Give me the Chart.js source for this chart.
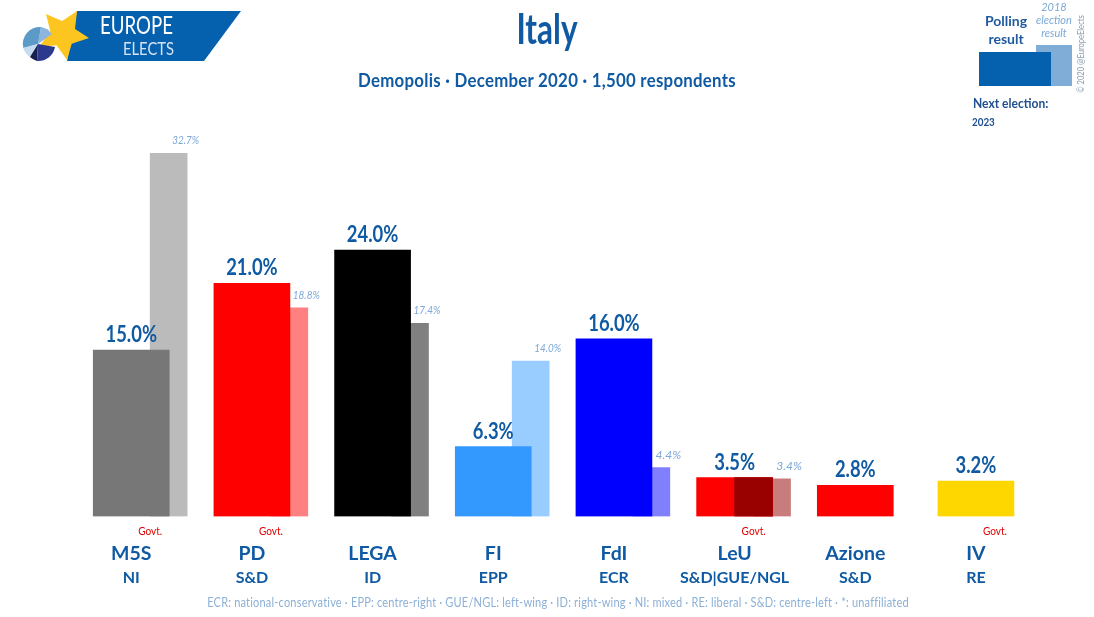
<!DOCTYPE html>
<html>
<head>
<meta charset="utf-8">
<title>Italy poll</title>
<script src="https://cdn.jsdelivr.net/npm/chart.js@4"></script>
<style>
  html, body { margin: 0; padding: 0; background: #fff; }
  #page { position: relative; width: 1094px; height: 617px; overflow: hidden; font-family: Lato, sans-serif; }
  #chart { position: absolute; left: 0; top: 0; }
  .t { position: absolute; white-space: nowrap; transform: translate(-50%, -50%); color: #0f5aa3; font-weight: 700; }
  .l { position: absolute; white-space: nowrap; transform-origin: left center; color: #1f4f8f; font-weight: 700; }
  .box { position: absolute; }
  svg { position: absolute; left: 0; top: 0; }
</style>
</head>
<body>
<div id="page">
  <canvas id="chart" width="1094" height="617"></canvas>

  <svg width="260" height="70" viewBox="0 0 260 70">
    <polygon points="77,11 241,11 204,61 67,61" fill="#0560ae"/>
    <polygon points="46,14 62.1,21 77,11 75,29.1 89,38 71.7,43.7 67,60 56.5,45.3 39,47 50.3,31.3" fill="#fdc51f"/>
    <path d="M38,44 L41,27 A17,17 0 0 1 52,34 Z" fill="#8db5dd"/>
    <path d="M38,44 L41,27 A17,17 0 0 0 23.3,48 Z" fill="#5c9ac8"/>
    <path d="M38,44 L23.3,48 A17,17 0 0 0 30,57 Z" fill="#c6daf0"/>
    <path d="M38,44 L30,57 A17,17 0 0 0 37,61 Z" fill="#16204f"/>
    <path d="M38,44 L37,61 A17,17 0 0 0 55,47 Z" fill="#2b3a8c"/>
    <text x="100" y="34" font-size="25" fill="#fff" textLength="73" lengthAdjust="spacingAndGlyphs">EUROPE</text>
    <text x="123" y="55" font-size="17" fill="#d5e4f5" textLength="51" lengthAdjust="spacingAndGlyphs">ELECTS</text>
  </svg>

  <div class="t" style="left:547px;top:28px;font-size:42px;transform:translate(-50%,-50%) scaleX(.75);">Italy</div>
  <div class="t" style="left:547px;top:79px;font-size:19px;letter-spacing:.3px;transform:translate(-50%,-50%) scaleX(.885);">Demopolis · December 2020 · 1,500 respondents</div>

  <div class="t" style="left:1006px;top:20px;font-size:14px;color:#1f5a9e;">Polling</div>
  <div class="t" style="left:1006px;top:38px;font-size:14px;color:#1f5a9e;">result</div>
  <div class="t" style="left:1054px;top:6px;font-size:11px;font-weight:400;font-style:italic;color:#7ca8d8;">2018</div>
  <div class="t" style="left:1054px;top:19px;font-size:11px;font-weight:400;font-style:italic;color:#7ca8d8;">election</div>
  <div class="t" style="left:1054px;top:32px;font-size:11px;font-weight:400;font-style:italic;color:#7ca8d8;">result</div>
  <div class="box" style="left:1036px;top:45px;width:36px;height:41px;background:#80acd8;"></div>
  <div class="box" style="left:979px;top:52px;width:72px;height:34px;background:#0560ae;"></div>
  <div class="l" style="left:973px;top:102px;font-size:14px;transform:translateY(-50%) scaleX(.86);">Next election:</div>
  <div class="l" style="left:972px;top:121px;font-size:12px;transform:translateY(-50%) scaleX(.82);">2023</div>
  <div class="t" style="left:1080px;top:53.5px;font-size:10px;font-weight:400;color:#8a9bb0;transform:translate(-50%,-50%) rotate(-90deg) scaleX(.76);">© 2020 @EuropeElects</div>

  <div class="t" style="left:557.5px;top:602px;font-size:13px;font-weight:400;color:#8db0d6;letter-spacing:.2px;transform:translate(-50%,-50%) scaleX(.85);">ECR: national-conservative · EPP: centre-right · GUE/NGL: left-wing · ID: right-wing · NI: mixed · RE: liberal · S&amp;D: centre-left · *: unaffiliated</div>
</div>

<script>
const parties = ['M5S', 'PD', 'LEGA', 'FI', 'FdI', 'LeU', 'Azione', 'IV']
const groups = ['NI', 'S&D', 'ID', 'EPP', 'ECR', 'S&D|GUE/NGL', 'S&D', 'RE']
const polling = [15.0, 21.0, 24.0, 6.3, 16.0, 3.5, 2.8, 3.2]
const election = [32.7, 18.8, 17.4, 14.0, 4.4, 3.4, null, null]
const leuSecondHalf = [null, null, null, null, null, 3.5, null, null]
const inGovernment = [true, true, false, false, false, true, false, true]

const pollingColors = ['#777777', '#ff0000', '#000000', '#3399ff', '#0000ff', '#ff0000', '#ff0000', '#ffd700']
const electionColors = ['#bbbbbb', '#ff8080', '#808080', '#99ccff', '#8080ff', '#c87c7c', '#ffffff', '#ffffff']

const fontName = 'Lato, sans-serif'
const textBlue = '#0f5aa3'

// hidden linear axes, shifted so the bars sit off the category centre
function shiftedAxis(shift) {
    return {
        type: 'linear',
        axis: 'x',
        display: false,
        offset: false,
        min: -0.5 - shift,
        max: 7.5 - shift
    }
}

function indexed(values) {
    return values.map((v, i) => ({x: i, y: v}))
}

const barLabels = {
    id: 'barLabels',
    afterDatasetsDraw(chart) {
        const ctx = chart.ctx
        ctx.save()
        ctx.textAlign = 'center'
        ctx.textBaseline = 'alphabetic'

        ctx.font = 'bold 23px ' + fontName
        ctx.fillStyle = textBlue
        chart.getDatasetMeta(0).data.forEach((bar, i) => {
            const text = polling[i].toFixed(1) + '%'
            ctx.fillText(text, bar.x, bar.y - 8, ctx.measureText(text).width * 0.8)
        })

        ctx.font = 'italic 12px ' + fontName
        ctx.fillStyle = '#7ca8d8'
        chart.getDatasetMeta(1).data.forEach((bar, i) => {
            if (election[i] === null) return
            ctx.fillText(election[i].toFixed(1) + '%', bar.x + 17, bar.y - 9, 27)
        })

        ctx.font = '12px ' + fontName
        ctx.fillStyle = '#e00000'
        ctx.textBaseline = 'middle'
        const xScale = chart.scales.x
        inGovernment.forEach((inGov, i) => {
            if (inGov) ctx.fillText('Govt.', xScale.getPixelForValue(i) + 19, 531, 24)
        })
        ctx.restore()
    }
}

new Chart(document.querySelector('#chart').getContext('2d'), {
    type: 'bar',
    data: {
        labels: parties,
        datasets: [
            {
                label: 'Polling result',
                data: polling,
                backgroundColor: pollingColors,
                barThickness: 76,
                grouped: false,
                order: 2
            },
            {
                label: '2018 election result',
                data: indexed(election),
                xAxisID: 'xElection',
                backgroundColor: electionColors,
                barThickness: 37,
                grouped: false,
                order: 3
            },
            {
                label: 'LeU second half',
                data: indexed(leuSecondHalf),
                xAxisID: 'xHalf',
                backgroundColor: '#990000',
                barThickness: 38,
                grouped: false,
                order: 1
            }
        ]
    },
    options: {
        responsive: false,
        animation: false,
        devicePixelRatio: 1,
        layout: {padding: {left: 70.9, right: 57.7, top: 139, bottom: 23}},
        plugins: {legend: {display: false}, title: {display: false}, tooltip: {enabled: false}},
        scales: {
            y: {display: false, min: 0, max: 34},
            x: {
                weight: 0,
                offset: true,
                grid: {display: false, drawTicks: false},
                border: {display: false},
                afterFit(scale) { scale.height = 49 },
                ticks: {
                    color: textBlue,
                    padding: 26,
                    maxRotation: 0,
                    autoSkip: false,
                    font: {family: fontName, size: 19.5, weight: 'bold'}
                }
            },
            xGroup: {
                type: 'category',
                position: 'bottom',
                weight: 1,
                labels: groups,
                offset: true,
                grid: {display: false, drawTicks: false},
                border: {display: false},
                afterFit(scale) { scale.height = 28.5 },
                ticks: {
                    color: textBlue,
                    padding: 2.4,
                    maxRotation: 0,
                    autoSkip: false,
                    font: {family: fontName, size: 16, weight: 'bold'}
                }
            },
            xElection: shiftedAxis(0.31),
            xHalf: shiftedAxis(0.157)
        }
    },
    plugins: [barLabels]
})
</script>
</body>
</html>
